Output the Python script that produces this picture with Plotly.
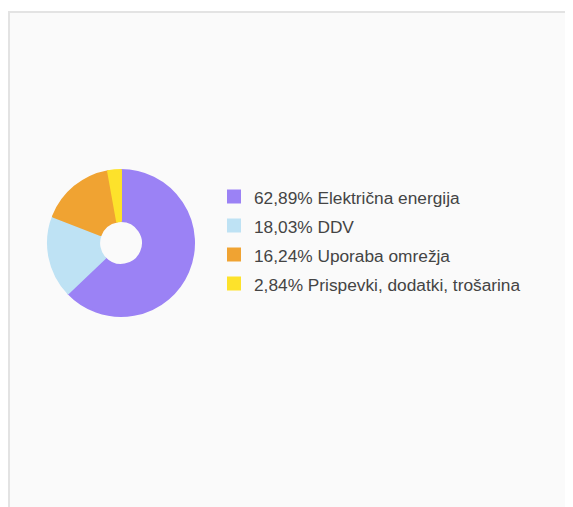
import plotly.graph_objects as go

categories = ["Električna energija", "DDV", "Uporaba omrežja", "Prispevki, dodatki, trošarina"]
shares = [62.89, 18.03, 16.24, 2.84]
colors = ["#9b82f5", "#bee2f4", "#f0a332", "#fde22b"]

W, H = 573, 507

labels = [
    '<span style="font-size:17.3px">' + f"{v:.2f}".replace(".", ",") + "% " + c + "</span>"
    for v, c in zip(shares, categories)
]

fig = go.Figure(
    go.Pie(
        labels=labels,
        values=shares,
        sort=False,
        direction="clockwise",
        rotation=0,
        hole=0.3,
        textinfo="none",
        marker=dict(colors=colors, line=dict(color=colors, width=2)),
        domain=dict(x=[40 / W, 186 / W], y=[(H - 235 - 73) / H, (H - 235 + 73) / H]),
        hoverinfo="label+percent",
    )
)

fig.update_layout(
    width=W,
    height=H,
    margin=dict(l=0, r=0, t=0, b=0),
    paper_bgcolor="#ffffff",
    showlegend=True,
    legend=dict(
        x=206 / W,
        xanchor="left",
        y=1 - 232 / H,
        yanchor="middle",
        font=dict(family="Arial, Liberation Sans, sans-serif", size=20, color="#444444"),
        bgcolor="rgba(0,0,0,0)",
        borderwidth=0,
    ),
    shapes=[
        dict(
            type="rect",
            xref="paper",
            yref="paper",
            x0=1 / W,
            x1=1.2,
            y0=-0.2,
            y1=1 - 4 / H,
            line=dict(color="#e3e3e3", width=2),
            fillcolor="#fafafa",
            layer="below",
        )
    ],
)

fig.write_html("out.html")
